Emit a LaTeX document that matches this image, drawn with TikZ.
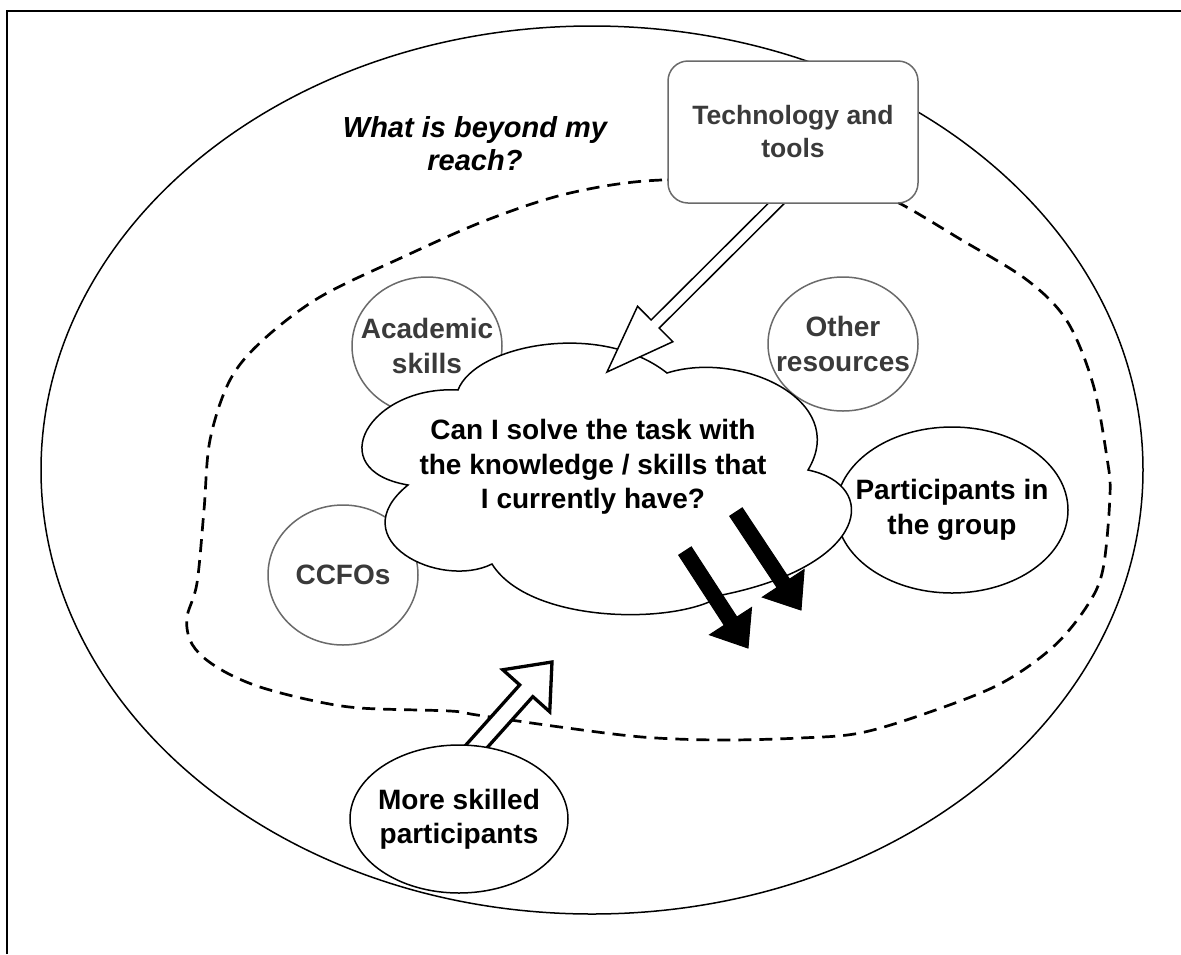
\documentclass[tikz,border=0pt]{standalone}
\usepackage{fontspec}
\setmainfont{Liberation Sans}
\usetikzlibrary{calc,shapes.geometric}

\definecolor{edgegray}{HTML}{6A6A6A}
\definecolor{textgray}{HTML}{3A3A3A}

\pgfdeclarelayer{back}
\pgfdeclarelayer{mid}
\pgfsetlayers{back,mid,main}

% block arrow: [style]{foot}{tip}{shaft half width}{head half width}{head length}
\newcommand\blockarrow[6][]{%
  \coordinate (arrowbase) at ($(#3)!#6!(#2)$);
  \path[#1] ($(#2)!#4!90:(#3)$) -- ($(arrowbase)!#4!90:(#3)$)
    -- ($(arrowbase)!#5!90:(#3)$) -- (#3)
    -- ($(arrowbase)!#5!-90:(#3)$) -- ($(arrowbase)!#4!-90:(#3)$)
    -- ($(#2)!#4!-90:(#3)$) -- cycle;
}

\tikzset{
  lbl/.style={font=\fontsize{28}{34.5}\selectfont\bfseries, align=center},
  graybubble/.style={ellipse, draw=edgegray, line width=1.5pt, fill=white,
    inner xsep=-20pt, inner ysep=0pt, lbl, text=textgray},
  blackbubble/.style={ellipse, draw=black, line width=1.5pt, fill=white,
    inner xsep=-20pt, inner ysep=0pt, lbl},
  toolbox/.style={rectangle, rounded corners=20pt, draw=edgegray,
    line width=1.5pt, fill=white, minimum width=250pt, minimum height=142pt,
    lbl, font=\fontsize{26.5}{33}\selectfont\bfseries, text=textgray},
  zone/.style={draw=black, line width=2.7pt, dash pattern=on 13pt off 8pt},
  thinhollow/.style={draw=black, fill=white, line width=1.5pt, line join=miter},
  thickhollow/.style={draw=black, fill=white, line width=3.3pt, line join=miter},
  solidarrow/.style={draw=black, fill=black, line width=1pt, line join=miter},
}

\begin{document}
\begin{tikzpicture}[x=1pt, y=-1pt]
\useasboundingbox (0,0) rectangle (1181,954);

\begin{pgfonlayer}{back}
% frame
\draw[line width=2pt] (6.5,954) -- (6.5,11) -- (1181,11);

% outer region
\draw[line width=1.5pt] (592,470) ellipse [x radius=551pt, y radius=444pt];

% zone of what I can reach
\draw[zone] plot[smooth cycle, tension=0.55] coordinates {
  (790,185) (662,180) (570,193) (487,220) (403,257) (320,297) (263,340)
  (230,380) (210,440) (204,510) (197,583) (187,617) (190,640) (203,657)
  (227,673) (260,687) (310,700) (360,708) (450,711) (477,715) (560,727)
  (642,737) (720,740) (800,738) (860,733) (927,713) (1000,684) (1053,647)
  (1087,606) (1103,569) (1110,495) (1107,458) (1093,384) (1067,321)
  (1027,280) (960,239) (897,202) (860,190)};

% resources around the question
\node[graybubble, minimum width=150pt, minimum height=138pt] (academic) at (427,346) {Academic\\skills};
\node[graybubble, minimum width=150pt, minimum height=134pt] (other) at (843,344) {Other\\resources};
\node[graybubble, minimum width=150pt, minimum height=140pt] (ccfos) at (343,575) {CCFOs};
\node[blackbubble, minimum width=232pt, minimum height=166pt] (group) at (952,510) {Participants in\\the group};

% the question cloud
\draw[line width=1.5pt, fill=white]
  (458,390) .. controls (475,345) and (600,320) .. (667,373)
  .. controls (740,350) and (850,400) .. (808,470)
  .. controls (880,485) and (870,565) .. (722,595)
  .. controls (680,625) and (530,625) .. (492,564)
  .. controls (440,590) and (340,540) .. (408,485)
  .. controls (320,470) and (370,385) .. (458,390) -- cycle;
\node[lbl] (question) at (593,467) {Can I solve the task with\\the knowledge / skills that\\I currently have?};
\end{pgfonlayer}

% technology and tools
\node[toolbox] (tech) at (793,132) {Technology and\\tools};

% more skilled participants
\node[blackbubble, minimum width=218pt, minimum height=148pt] (skilled) at (459,819) {More skilled\\participants};

% beyond reach
\node[lbl, font=\fontsize{29}{33}\selectfont\bfseries\itshape] (reach) at (475,144) {What is beyond my\\reach?};

\begin{pgfonlayer}{mid}
% outgoing arrows
\coordinate (outAfoot) at (685,551);
\coordinate (outAtip) at (748,648);
\coordinate (outBfoot) at (736,512);
\coordinate (outBtip) at (801,610);
\blockarrow[solidarrow]{outAfoot}{outAtip}{7.5pt}{25pt}{32pt}
\blockarrow[solidarrow]{outBfoot}{outBtip}{7.5pt}{25pt}{32pt}

% tools feeding the question
\coordinate (techFoot) at ($(tech.south)+(3,-20)$);
\coordinate (techTip) at (607,372);
\blockarrow[thinhollow]{techFoot}{techTip}{5.7pt}{25pt}{68pt}

% help from more skilled participants
\coordinate (skilledFoot) at ($(skilled.north)+(-3,25)$);
\coordinate (skilledTip) at (552,662);
\blockarrow[thickhollow]{skilledFoot}{skilledTip}{8.8pt}{31.5pt}{38.6pt}
\end{pgfonlayer}
\end{tikzpicture}
\end{document}
